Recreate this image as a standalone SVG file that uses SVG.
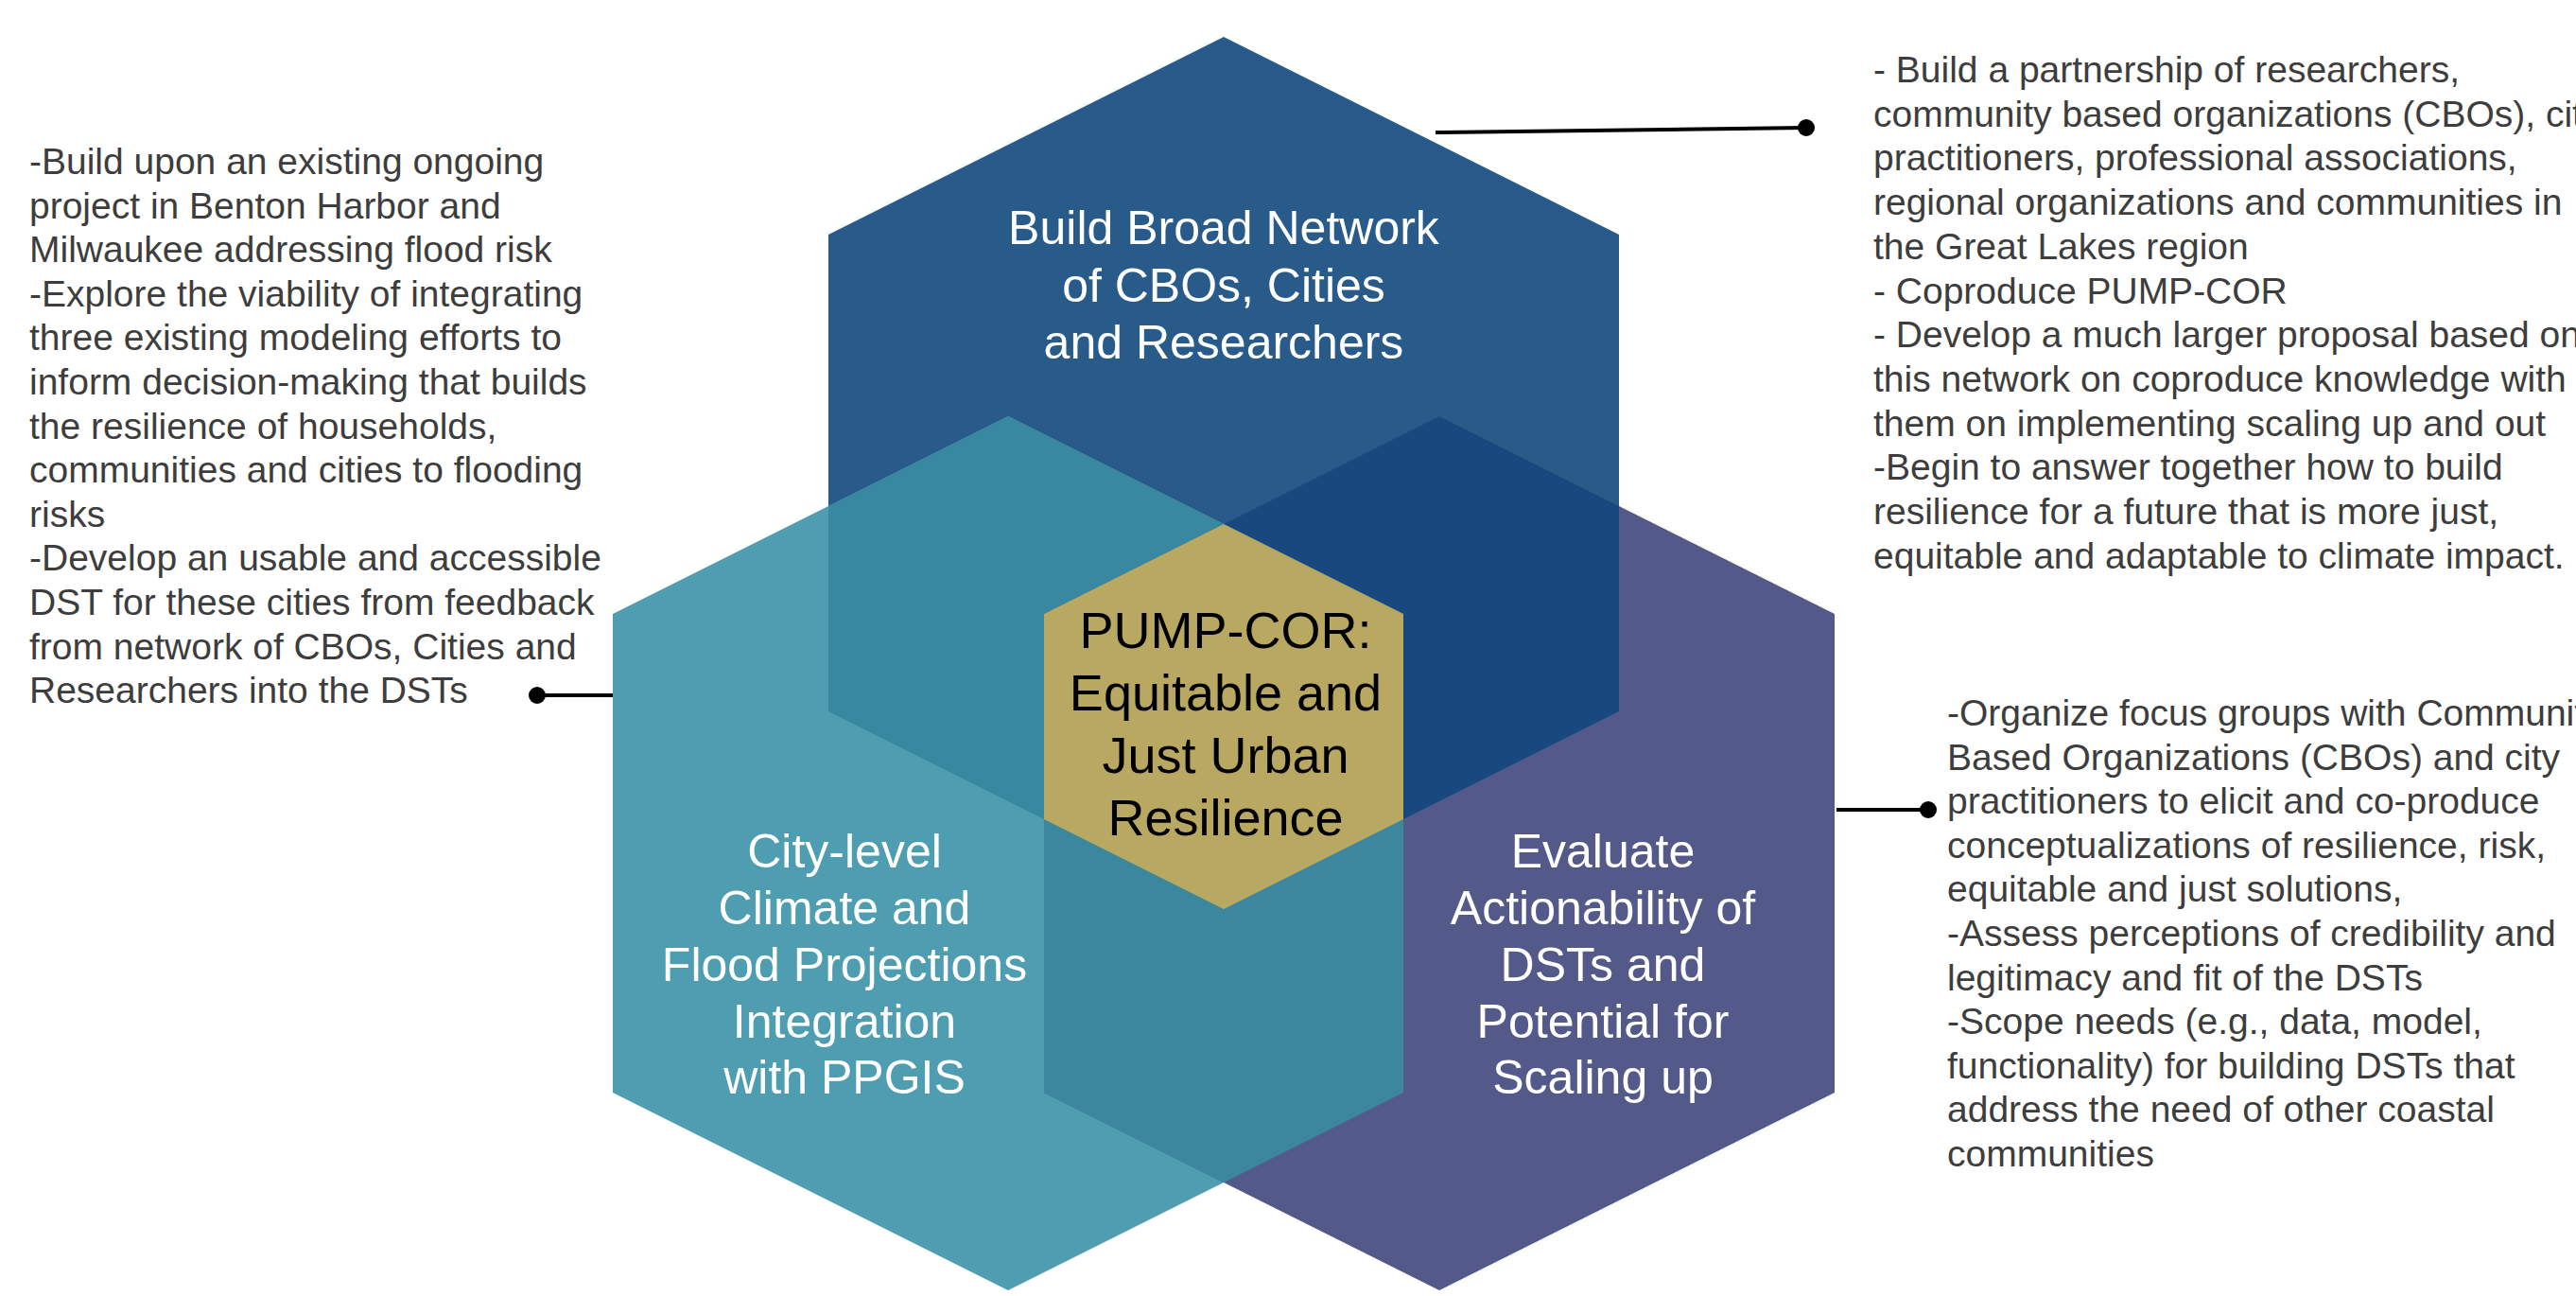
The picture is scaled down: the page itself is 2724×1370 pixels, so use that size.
<svg xmlns="http://www.w3.org/2000/svg" width="2724" height="1370" viewBox="0 0 2724 1370">
<style>
.note{font-family:"Liberation Sans",Arial,sans-serif;font-size:39px;fill:#3d3d3d;}
.hl{font-family:"Liberation Sans",Arial,sans-serif;font-size:50px;fill:#ffffff;text-anchor:middle;}
.cl{font-family:"Liberation Sans",Arial,sans-serif;font-size:54px;fill:#000000;text-anchor:middle;}
.conn{stroke:#000;stroke-width:4;fill:none;}
.dot{fill:#000;}
</style>
<rect x="0" y="0" width="2724" height="1370" fill="#ffffff"/>
<g id="hex-top">
<polygon points="1294,39 1712,248 1712,752 1294,961 876,752 876,248" fill="#285B8A"/>
</g>
<g id="hex-left">
<polygon points="1066,440 1484,649 1484,1155 1066,1364 648,1155 648,649" fill="#4F9DB0"/>
</g>
<g id="hex-right">
<polygon points="1522,440 1940,649 1940,1155 1522,1364 1104,1155 1104,649" fill="#535A8A"/>
</g>
<g id="overlaps">
<polygon points="876,535 1066,440 1484,649 1484,866 1294,961 876,752" fill="#3889A0"/>
<polygon points="1712,535 1522,440 1104,649 1104,866 1294,961 1712,752" fill="#17497E"/>
<polygon points="1104,649 1294,554 1484,649 1484,1155 1294,1250 1104,1155" fill="#3C879E"/>
</g>
<g id="hex-center">
<polygon points="1294,554 1484,649 1484,866 1294,961 1104,866 1104,649" fill="#B9A862"/>
<text class="cl"><tspan x="1296" y="685">PUMP-COR:</tspan><tspan x="1296" y="751">Equitable and</tspan><tspan x="1296" y="817">Just Urban</tspan><tspan x="1296" y="883">Resilience</tspan></text>
</g>
<g id="label-top">
<text class="hl"><tspan x="1294" y="258">Build Broad Network</tspan><tspan x="1294" y="319">of CBOs, Cities</tspan><tspan x="1294" y="379">and Researchers</tspan></text>
</g>
<g id="label-left">
<text class="hl"><tspan x="893" y="917">City-level</tspan><tspan x="893" y="977">Climate and</tspan><tspan x="893" y="1037">Flood Projections</tspan><tspan x="893" y="1097">Integration</tspan><tspan x="893" y="1156">with PPGIS</tspan></text>
</g>
<g id="label-right">
<text class="hl"><tspan x="1695" y="917">Evaluate</tspan><tspan x="1695" y="977">Actionability of</tspan><tspan x="1695" y="1037">DSTs and</tspan><tspan x="1695" y="1097">Potential for</tspan><tspan x="1695" y="1156">Scaling up</tspan></text>
</g>
<g id="note-left">
<text class="note">
<tspan x="31" y="184">-Build upon an existing ongoing</tspan>
<tspan x="31" y="230.6">project in Benton Harbor and</tspan>
<tspan x="31" y="277.2">Milwaukee addressing flood risk</tspan>
<tspan x="31" y="323.8">-Explore the viability of integrating</tspan>
<tspan x="31" y="370.4">three existing modeling efforts to</tspan>
<tspan x="31" y="417">inform decision-making that builds</tspan>
<tspan x="31" y="463.6">the resilience of households,</tspan>
<tspan x="31" y="510.2">communities and cities to flooding</tspan>
<tspan x="31" y="556.8">risks</tspan>
<tspan x="31" y="603.4">-Develop an usable and accessible</tspan>
<tspan x="31" y="650">DST for these cities from feedback</tspan>
<tspan x="31" y="696.6">from network of CBOs, Cities and</tspan>
<tspan x="31" y="743.2">Researchers into the DSTs</tspan>
</text>
</g>
<g id="note-top-right">
<text class="note">
<tspan x="1981" y="87">- Build a partnership of researchers,</tspan>
<tspan x="1981" y="133.7">community based organizations (CBOs), city</tspan>
<tspan x="1981" y="180.4">practitioners, professional associations,</tspan>
<tspan x="1981" y="227.1">regional organizations and communities in</tspan>
<tspan x="1981" y="273.8">the Great Lakes region</tspan>
<tspan x="1981" y="320.5">- Coproduce PUMP-COR</tspan>
<tspan x="1981" y="367.2">- Develop a much larger proposal based on</tspan>
<tspan x="1981" y="413.9">this network on coproduce knowledge with</tspan>
<tspan x="1981" y="460.6">them on implementing scaling up and out</tspan>
<tspan x="1981" y="507.3">-Begin to answer together how to build</tspan>
<tspan x="1981" y="554">resilience for a future that is more just,</tspan>
<tspan x="1981" y="600.7">equitable and adaptable to climate impact.</tspan>
</text>
</g>
<g id="note-bottom-right">
<text class="note">
<tspan x="2059" y="767">-Organize focus groups with Community</tspan>
<tspan x="2059" y="813.6">Based Organizations (CBOs) and city</tspan>
<tspan x="2059" y="860.2">practitioners to elicit and co-produce</tspan>
<tspan x="2059" y="906.8">conceptualizations of resilience, risk,</tspan>
<tspan x="2059" y="953.4">equitable and just solutions,</tspan>
<tspan x="2059" y="1000">-Assess perceptions of credibility and</tspan>
<tspan x="2059" y="1046.6">legitimacy and fit of the DSTs</tspan>
<tspan x="2059" y="1093.2">-Scope needs (e.g., data, model,</tspan>
<tspan x="2059" y="1139.8">functionality) for building DSTs that</tspan>
<tspan x="2059" y="1186.4">address the need of other coastal</tspan>
<tspan x="2059" y="1233">communities</tspan>
</text>
</g>
<g id="connectors">
<line class="conn" x1="1518" y1="140" x2="1910" y2="135"/>
<circle class="dot" cx="1910" cy="135" r="9"/>
<line class="conn" x1="568" y1="735" x2="648" y2="735"/>
<circle class="dot" cx="568" cy="735" r="9"/>
<line class="conn" x1="1942" y1="856" x2="2039" y2="856"/>
<circle class="dot" cx="2039" cy="856" r="9"/>
</g>
</svg>
